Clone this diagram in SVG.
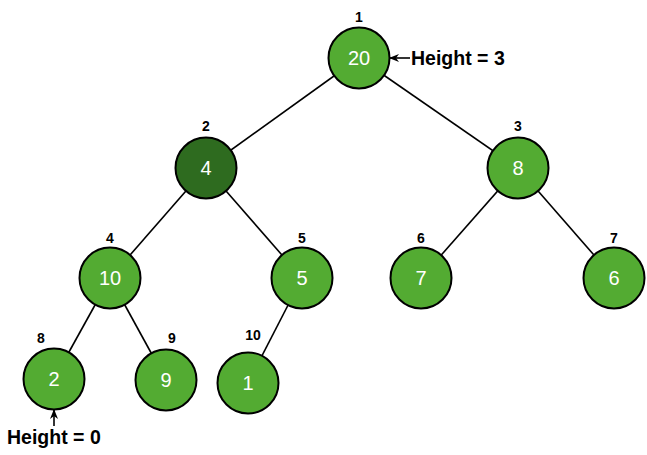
<svg xmlns="http://www.w3.org/2000/svg" width="647" height="455" viewBox="0 0 647 455">
<defs>
<style>
.n{fill:#53ab32;stroke:#000;stroke-width:2}
.d{fill:#2e6b1f}
.v{font-family:"Liberation Sans",Arial,sans-serif;font-size:20px;fill:#fff;text-anchor:middle}
.i{font-family:"Liberation Sans",Arial,sans-serif;font-size:14px;font-weight:bold;fill:#000;text-anchor:middle}
.h{font-family:"Liberation Sans",Arial,sans-serif;font-size:19.5px;font-weight:bold;fill:#000}
.e{stroke:#000;stroke-width:1.6;fill:none}
</style>
<marker id="ah" markerWidth="10" markerHeight="8" refX="9" refY="4" orient="auto" markerUnits="userSpaceOnUse">
<path d="M0,0 L10,4 L0,8 L3,4 Z" fill="#000"/>
</marker>
</defs>
<g id="connectors">
<line class="e" x1="359" y1="58" x2="206" y2="168"/>
<line class="e" x1="359" y1="58" x2="518" y2="168"/>
<line class="e" x1="206" y1="168" x2="110" y2="278"/>
<line class="e" x1="206" y1="168" x2="302" y2="278"/>
<line class="e" x1="518" y1="168" x2="421" y2="278"/>
<line class="e" x1="518" y1="168" x2="614" y2="278"/>
<line class="e" x1="110" y1="278" x2="54" y2="379"/>
<line class="e" x1="110" y1="278" x2="166" y2="380"/>
<line class="e" x1="302" y1="278" x2="248" y2="383"/>
<line class="e" x1="410" y1="58" x2="390" y2="58" marker-end="url(#ah)"/>
<line class="e" x1="54" y1="426" x2="54" y2="410" marker-end="url(#ah)"/>
</g>
<g id="n1"><circle class="n" cx="359" cy="58" r="30.5"/><text class="v" x="359" y="65">20</text><text class="i" x="359" y="22">1</text></g>
<g id="n2"><circle class="n d" cx="206" cy="168" r="30.5"/><text class="v" x="206" y="175">4</text><text class="i" x="206" y="131">2</text></g>
<g id="n3"><circle class="n" cx="518" cy="168" r="30.5"/><text class="v" x="518" y="175">8</text><text class="i" x="518" y="131">3</text></g>
<g id="n4"><circle class="n" cx="110" cy="278" r="30.5"/><text class="v" x="110" y="285">10</text><text class="i" x="110" y="243">4</text></g>
<g id="n5"><circle class="n" cx="302" cy="278" r="30.5"/><text class="v" x="302" y="285">5</text><text class="i" x="302" y="243">5</text></g>
<g id="n6"><circle class="n" cx="421" cy="278" r="30.5"/><text class="v" x="421" y="285">7</text><text class="i" x="421" y="243">6</text></g>
<g id="n7"><circle class="n" cx="614" cy="278" r="30.5"/><text class="v" x="614" y="285">6</text><text class="i" x="614" y="243">7</text></g>
<g id="n8"><circle class="n" cx="54" cy="379" r="30.5"/><text class="v" x="54" y="386">2</text><text class="i" x="41" y="343">8</text></g>
<g id="n9"><circle class="n" cx="166" cy="380" r="30.5"/><text class="v" x="166" y="387">9</text><text class="i" x="172" y="343">9</text></g>
<g id="n10"><circle class="n" cx="248" cy="383" r="30.5"/><text class="v" x="248" y="390">1</text><text class="i" x="253" y="340">10</text></g>
<g id="height3"><text class="h" x="411" y="65">Height = 3</text></g>
<g id="height0"><text class="h" x="7" y="444">Height = 0</text></g>
</svg>
